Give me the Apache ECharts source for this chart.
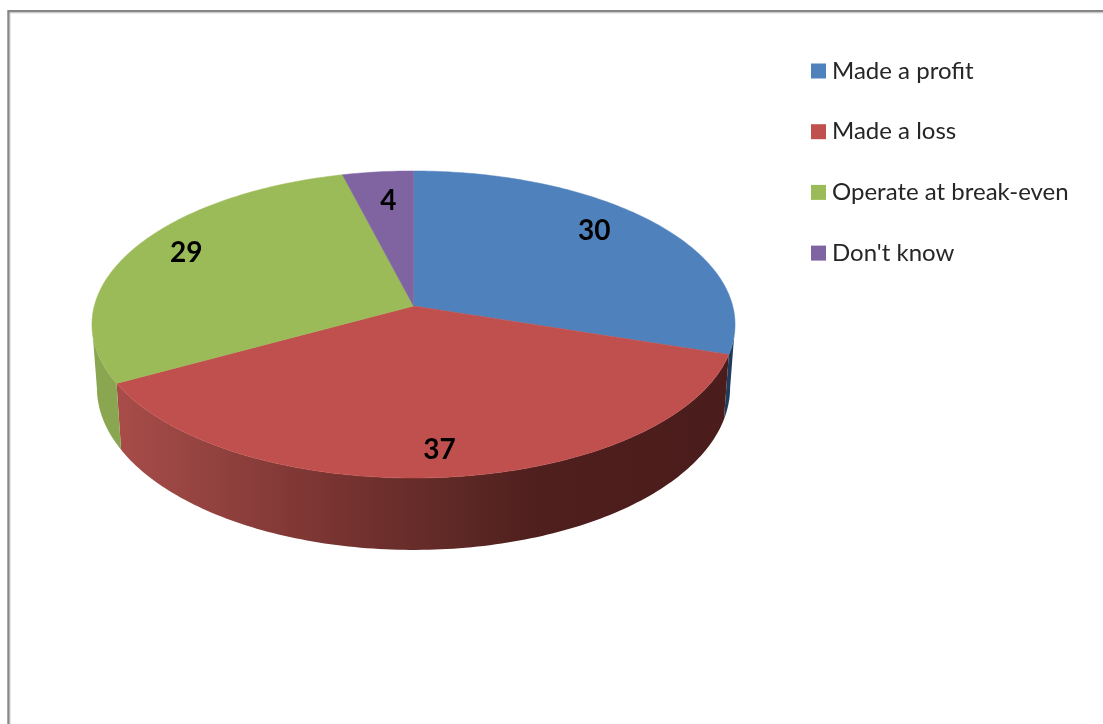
<!DOCTYPE html>
<html>
<head>
<meta charset="utf-8">
<style>html,body{margin:0;padding:0;background:#fff}#chart{width:1103px;height:724px}</style>
<script src="https://cdn.jsdelivr.net/npm/echarts@6/dist/echarts.min.js"></script>
</head>
<body>
<div id="chart"></div>
<script>
// Survey results
const categories = ['Made a profit', 'Made a loss', 'Operate at break-even', "Don't know"];
const values = [30, 37, 29, 4];

// Slice styling
const topColors = ['#4F81BD', '#C0504D', '#9BBB59', '#8064A2'];
const sideColors = ['#1E3D5C', null, '#8AA650', '#5A4672'];
const redSideStops = [
  [0, '#A84C49'], [0.1, '#9A4643'], [0.365, '#773330'],
  [0.53, '#612A27'], [0.69, '#4E1F1D'], [1, '#4A1C1B']
];

// Value label placement, as a fraction of the radius and a turn in degrees from mid-slice
const labelRadius = [0.8, 0.855, 0.83, 0.76];
const labelTurn = [-5.2, 0.5, 3, 0.7];

// Perspective disc: v runs from the back (-1) to the front (+1) of the pie
const CX = 413.5;
const KEYSTONE = -0.1205;
const topRim = { d: 319.2, a: 306, b: 151.3 };
const bottomRim = { d: 314.3, a: 368, b: 160 };
const total = values.reduce((s, v) => s + v, 0);

function project(rim, deg, r) {
  const t = deg * Math.PI / 180;
  const u = Math.sin(t) * r;
  const v = -Math.cos(t) * r;
  const w = 1 + KEYSTONE * v;
  return [CX + rim.d * u / w, rim.a + rim.b * v / w];
}

function arc(rim, from, to) {
  const n = Math.max(2, Math.ceil(Math.abs(to - from)));
  const pts = [];
  for (let i = 0; i <= n; i++) pts.push(project(rim, from + (to - from) * i / n, 1));
  return pts;
}

// The wall runs between the widest points of the disc, where it meets the silhouette
const WALL_FROM = 97;
const WALL_TO = 263;

function makeRenderItem(index) {
  const before = values.slice(0, index).reduce((s, v) => s + v, 0);
  return function (params, api) {
    const value = api.value(0);
    const start = before / total * 360;
    const end = (before + value) / total * 360;
    const children = [];

    const wallFrom = Math.max(start, WALL_FROM);
    const wallTo = Math.min(end, WALL_TO);
    if (wallTo > wallFrom) {
      const fill = sideColors[index] || new echarts.graphic.LinearGradient(
        116, 0, 730, 0,
        redSideStops.map(s => ({ offset: s[0], color: s[1] })),
        true
      );
      children.push({
        type: 'polygon',
        z2: 1,
        shape: { points: arc(topRim, wallFrom, wallTo).concat(arc(bottomRim, wallTo, wallFrom)) },
        style: { fill: fill }
      });
    }

    children.push({
      type: 'polygon',
      z2: 10,
      shape: { points: [[CX, topRim.a]].concat(arc(topRim, start, end)) },
      style: { fill: topColors[index], stroke: topColors[index], lineWidth: 0.5 }
    });

    const mid = (start + end) / 2 + labelTurn[index];
    const at = project(topRim, mid, labelRadius[index]);
    children.push({
      type: 'text',
      z2: 20,
      x: at[0],
      y: at[1],
      style: {
        text: String(value),
        fill: '#000',
        font: 'bold 28px Lato, sans-serif',
        align: 'center',
        verticalAlign: 'middle'
      }
    });

    return { type: 'group', children: children };
  };
}

const chart = echarts.init(document.getElementById('chart'), null, { renderer: 'canvas' });
chart.setOption({
  animation: false,
  backgroundColor: '#fff',
  legend: {
    orient: 'vertical',
    left: 806,
    top: 54,
    icon: 'rect',
    itemWidth: 15,
    itemHeight: 15,
    itemGap: 36.7,
    selectedMode: false,
    data: categories,
    textStyle: { fontFamily: 'Lato, sans-serif', fontSize: 24, color: '#262626', padding: [0, 0, 0, 1] }
  },
  graphic: [
    {
      type: 'polyline',
      silent: true,
      shape: { points: [[8.5, 724], [8.5, 11.3], [1103, 11.3]] },
      style: { fill: null, stroke: '#868686', lineWidth: 2.4 }
    },
    {
      type: 'polyline',
      silent: true,
      shape: { points: [[10.2, 724], [10.2, 13], [1103, 13]] },
      style: { fill: null, stroke: '#D9D9D9', lineWidth: 1 }
    }
  ],
  series: categories.map((name, i) => ({
    type: 'custom',
    name: name,
    coordinateSystem: 'none',
    itemStyle: { color: topColors[i] },
    silent: true,
    data: [[values[i]]],
    renderItem: makeRenderItem(i)
  }))
});
</script>
</body>
</html>
